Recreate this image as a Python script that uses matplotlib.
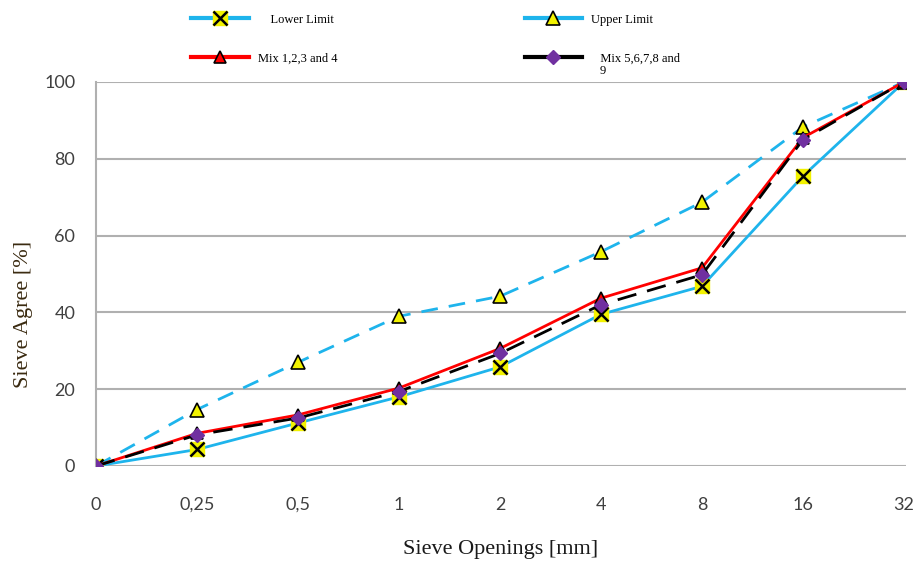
import matplotlib
matplotlib.use("Agg")
from matplotlib import pyplot as plt
from matplotlib.lines import Line2D
from matplotlib.legend_handler import HandlerTuple
import numpy as np

sieve_labels = ["0", "0,25", "0,5", "1", "2", "4", "8", "16", "32"]
lower_limit = [0, 4.3, 11.2, 18, 25.8, 39.5, 46.8, 75.5, 100]
upper_limit = [0, 14.7, 27, 39, 44.2, 55.8, 68.7, 88.3, 100]
mix_1_4 = [0, 8.5, 13.3, 20.3, 30.6, 43.7, 51.6, 85.5, 100]
mix_5_9 = [0, 8.1, 12.5, 19.4, 29.3, 42.0, 49.8, 85.0, 100]

SKY = "#1eb4ec"
YEL = "#f2f200"
PURPLE = "#7030a0"
TICK_C = "#404040"

fig = plt.figure(figsize=(9.18, 5.67), dpi=100)
ax = fig.add_axes([96 / 918, 1 - 466 / 567, 810 / 918, 384 / 567])
x = np.arange(len(sieve_labels))

# lower limit: yellow square with a black cross on top
ax.plot(x, lower_limit, color=SKY, lw=2, marker="s", ms=10,
        mfc=YEL, mec=YEL, zorder=3)
ax.plot(x, lower_limit, ls="none", marker="x", ms=10, mew=1.8,
        color="black", zorder=4)
ax.plot(x, upper_limit, color=SKY, lw=2, ls=(0, (6, 4)),
        marker="^", ms=10, mfc=YEL, mec="black", mew=1.2, zorder=3)
ax.plot(x, mix_1_4, color="red", lw=2, marker="^", ms=9,
        mfc="red", mec="black", mew=1.2, zorder=5)
ax.plot(x, mix_5_9, color="black", lw=2, ls=(0, (7, 4)),
        marker="D", ms=7.5, mfc=PURPLE, mec=PURPLE, zorder=6)

ax.set_xlim(0, 8.02)
ax.set_ylim(0, 100)
ax.set_yticks(range(0, 101, 20))
ax.set_xticks(x)
ax.set_xticklabels(sieve_labels)
ax.yaxis.grid(True, color="#b0b0b0", lw=1.5)
ax.set_axisbelow(True)
for s in ["top", "right", "bottom"]:
    ax.spines[s].set_visible(False)
ax.spines["left"].set_color("#b0b0b0")
ax.spines["left"].set_linewidth(1.5)
ax.tick_params(length=0, colors=TICK_C, labelsize=13)
ax.tick_params(axis="y", pad=15)
ax.tick_params(axis="x", pad=22)
for lab in ax.get_xticklabels() + ax.get_yticklabels():
    lab.set_family("Lato")

serif = "Liberation Serif"
ax.set_xlabel("Sieve Openings [mm]", family=serif, fontsize=16, color="#1a1a1a",
              labelpad=20)
ax.set_ylabel("Sieve Agree [%]", family=serif, fontsize=16, color="#3a2a10")
ax.yaxis.set_label_coords(-0.078, 0.395)

# legend handles are drawn solid, as in the original
h_low = (Line2D([], [], color=SKY, lw=3, marker="s", ms=10, mfc=YEL, mec=YEL),
         Line2D([], [], ls="none", marker="x", ms=10, mew=1.8, color="black"))
h_up = Line2D([], [], color=SKY, lw=3, marker="^", ms=10, mfc=YEL,
              mec="black", mew=1.2)
h_m1 = Line2D([], [], color="red", lw=3, marker="^", ms=9, mfc="red",
              mec="black", mew=1.2)
h_m2 = Line2D([], [], color="black", lw=3, marker="D", ms=7.5,
              mfc=PURPLE, mec=PURPLE)

handles = [h_low, h_m1, h_up, h_m2]
labels = ["    Lower Limit", "Mix 1,2,3 and 4", "Upper Limit",
          "   Mix 5,6,7,8 and"]
fig.legend(handles, labels, ncol=2, loc="upper left",
           bbox_to_anchor=(180 / 918, 0.996), frameon=False,
           handlelength=4.6, handletextpad=0.7, columnspacing=15.0,
           labelspacing=2.15, prop={"family": serif, "size": 9},
           handler_map={tuple: HandlerTuple(ndivide=1)})
# wrapped tail of the last legend label
fig.text(600 / 918, 1 - 71 / 567, "9", family=serif, fontsize=9,
         va="center", ha="left")

fig.savefig("out.png", dpi=100)
